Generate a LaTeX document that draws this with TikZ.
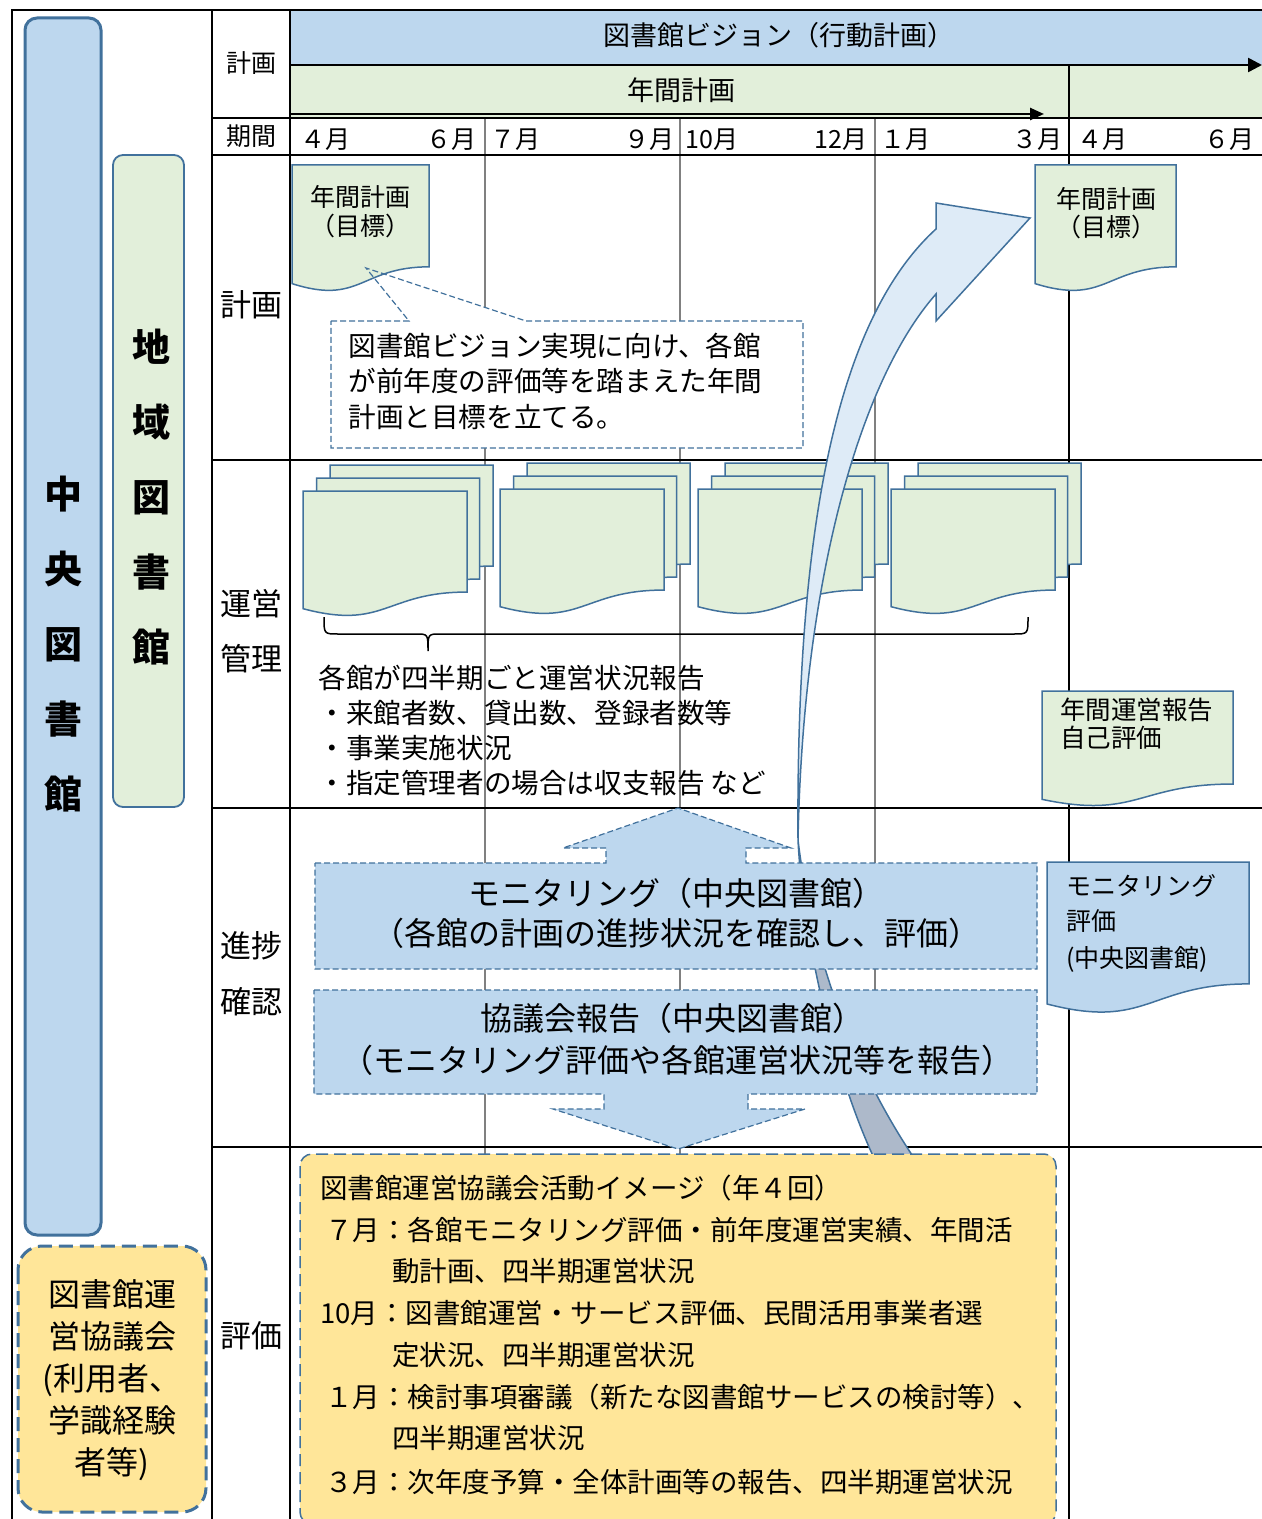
\documentclass[tikz,border=0pt]{standalone}
\usepackage{fontspec}
\setmainfont{Noto Sans CJK JP}
\usetikzlibrary{arrows.meta}
\definecolor{bandblue}{HTML}{BDD7EE}
\definecolor{bandgreen}{HTML}{E2EFDA}
\definecolor{edgeblue}{HTML}{41719C}
\definecolor{paleyellow}{HTML}{FFE699}
\definecolor{arrowlight}{HTML}{DEEBF7}
\definecolor{arrowback}{HTML}{ADB9CA}
\definecolor{gridgray}{HTML}{808080}
\newcommand\jfs[1]{\fontsize{#1pt}{#1pt}\selectfont}
\newcommand\jfsb[2]{\fontsize{#1pt}{#2pt}\selectfont}
% document (wavy bottom) shape: x, y, w, h
\newcommand\docshape[5][]{\path[docstyle,#1] ({#2},{#3}) -- ({#2+#4},{#3}) -- ({#2+#4},{#3+0.802*#5}) .. controls ({#2+0.5*#4},{#3+0.802*#5}) and ({#2+0.5*#4},{#3+1.107*#5}) .. ({#2},{#3+0.934*#5}) -- cycle;}
\newcommand\docstack[2]{\docshape{#1+27}{#2-26}{163}{126}\docshape{#1+13.5}{#2-13}{163}{126}\docshape{#1}{#2}{164}{126}}
\begin{document}
\begin{tikzpicture}[x=0.5pt,y=-0.5pt,
  lbl/.style={inner sep=0pt,text height=1em,text depth=0em},
  gridline/.style={line width=1.25pt,black},
  grayline/.style={line width=1pt,gridgray},
  docstyle/.style={fill=bandgreen,draw=edgeblue,line width=0.75pt},
  dashbox/.style={draw=edgeblue,line width=0.6pt,dash pattern=on 3pt off 1.5pt},
  headtip/.style={-{Triangle[length=7pt,width=7pt]}}
  ]
\useasboundingbox (0,0) rectangle (1262,1519);
% header bands
\fill[bandblue] (290,10) rectangle (1262,65);
\fill[bandgreen] (290,65) rectangle (1262,118);
% gray month separators
\foreach \gx in {485,680,875} \draw[grayline] (\gx,118) -- (\gx,1160);
% frame and table lines
\draw[gridline] (12,1530) -- (12,10) -- (1270,10);
\draw[gridline] (212,10) -- (212,1530);
\draw[gridline] (290,10) -- (290,1530);
\draw[gridline] (1069,65) -- (1069,1530);
\foreach \gy in {118,155,460,808,1147} \draw[gridline] (212,\gy) -- (1270,\gy);
% header arrows
\coordinate (visS) at (290,65); \coordinate (visE) at (1262,65);
\coordinate (yrS) at (290,114); \coordinate (yrE) at (1044,114);
\draw[gridline,headtip] (visS) -- (visE);
\draw[gridline,-{Triangle[length=7pt,width=6pt]}] (yrS) -- (yrE);
\node[lbl,font=\jfs{13.5}] (vision) at (779,36) {図書館ビジョン（行動計画）};
\node[lbl,font=\jfs{13.5}] (nenkan) at (681,91) {年間計画};
% left column labels
\node[lbl,font=\jfs{12.5}] (hKeikaku) at (251,63) {計画};
\node[lbl,font=\jfs{12.5}] (hKikan) at (251,136) {期間};
\node[lbl,font=\jfs{15.5}] (rKeikaku) at (251,307) {計画};
\node[lbl,font=\jfs{15.5}] (rUnei) at (251,605) {運営};
\node[lbl,font=\jfs{15.5}] (rKanri) at (251,660) {管理};
\node[lbl,font=\jfs{15.5}] (rShinchoku) at (251,947) {進捗};
\node[lbl,font=\jfs{15.5}] (rKakunin) at (251,1003) {確認};
\node[lbl,font=\jfs{15.5}] (rHyoka) at (251,1337) {評価};
% months
\begin{scope}[every node/.style={lbl,font=\jfs{12.5}}]
\node[anchor=west] (m4) at (300,139) {４月};
\node[anchor=east] (m6) at (477,139) {６月};
\node[anchor=west] (m7) at (490,139) {７月};
\node[anchor=east] (m9) at (675,139) {９月};
\node[anchor=west] (m10) at (685,139) {10月};
\node[anchor=east] (m12) at (868,139) {12月};
\node[anchor=west] (m1) at (880,139) {１月};
\node[anchor=east] (m3) at (1063,139) {３月};
\node[anchor=west] (n4) at (1077,139) {４月};
\node[anchor=east] (n6) at (1255,139) {６月};
\end{scope}
% left organisation boxes
\draw[fill=bandblue,draw=edgeblue,line width=1.5pt,rounded corners=6pt] (25,18) rectangle (101,1235);
\node[inner sep=0pt,align=center,font=\jfsb{19}{37.5}\bfseries] (chuo) at (63,644) {中\\央\\図\\書\\館};
\draw[fill=bandgreen,draw=edgeblue,line width=0.9pt,rounded corners=5pt] (113,155) rectangle (184,807);
\node[inner sep=0pt,align=center,font=\jfsb{19}{37.5}\bfseries] (chiiki) at (151,497) {地\\域\\図\\書\\館};
\draw[fill=paleyellow,draw=edgeblue,line width=1.5pt,dash pattern=on 7pt off 3.5pt,rounded corners=12pt] (18,1246) rectangle (206,1512);
\node[inner sep=0pt,align=center,font=\jfsb{16}{21}] (kyogikai) at (112,1380) {図書館運\\営協議会\\(利用者、\\学識経験\\者等)};
% callout background
\fill[white] (331,321) -- (409,321) -- (366,268) -- (526,321) -- (803,321) -- (803,448) -- (331,448) -- cycle;
% planning documents
\docshape{292}{165}{137}{127}
\node[lbl,font=\jfs{12.5}] (d1a) at (360,197) {年間計画};
\node[lbl,font=\jfs{12.5}] (d1b) at (360,226) {（目標）};
\docshape{1035}{165}{141}{127}
\node[lbl,font=\jfs{12.5}] (d2a) at (1106,199) {年間計画};
\node[lbl,font=\jfs{12.5}] (d2b) at (1106,227) {（目標）};
% callout outline and text
\draw[dashbox] (331,321) -- (409,321) -- (366,268) -- (526,321) -- (803,321) -- (803,448) -- (331,448) -- cycle;
\begin{scope}[every node/.style={lbl,font=\jfs{13.8},anchor=west}]
\node (c1) at (348,347) {図書館ビジョン実現に向け、各館};
\node (c2) at (348,382) {が前年度の評価等を踏まえた年間};
\node (c3) at (348,417) {計画と目標を立てる。};
\end{scope}
% quarterly report stacks
\docstack{303}{491}
\docstack{500}{489}
\docstack{698}{489}
\docstack{891}{489}
% brace
\draw[line width=0.75pt] (324,617) .. controls (324,634) and (324,634) .. (338,634) -- (416,634) .. controls (428,634) and (428,634) .. (428,651) .. controls (428,634) and (428,634) .. (440,634) -- (1014,634) .. controls (1028,634) and (1028,634) .. (1028,617);
\begin{scope}[every node/.style={lbl,font=\jfs{13.8},anchor=west}]
\node (q1) at (318,678) {各館が四半期ごと運営状況報告};
\node (q2) at (318,713) {・来館者数、貸出数、登録者数等};
\node (q3) at (318,748) {・事業実施状況};
\node (q4) at (318,783) {・指定管理者の場合は収支報告 など};
\end{scope}
% annual report doc
\docshape{1042}{691}{191}{116}
\node[lbl,font=\jfs{12.75},anchor=west] (ar1) at (1060,709) {年間運営報告};
\node[lbl,font=\jfs{12.75},anchor=west] (ar2) at (1060,737) {自己評価};
% curved arrow (back side, then front side)
\filldraw[fill=arrowback,draw=edgeblue,line width=0.75pt] (798,840) .. controls (803,940) and (835,1075) .. (874,1158) -- (914,1158) .. controls (845,1055) and (810,940) .. (798,840) -- cycle;
\filldraw[fill=arrowlight,draw=edgeblue,line width=0.75pt] (798,840) .. controls (796,530) and (836,320) .. (936,229) -- (936,203) -- (1030,218) -- (936,321) -- (936,294) .. controls (860,380) and (803,580) .. (798,840) -- cycle;
% monitoring boxes with arrows
\filldraw[fill=bandblue,dashbox] (315,863) -- (606,863) -- (606,848) -- (563,848) -- (678,808) -- (791,848) -- (746,848) -- (746,863) -- (1037,863) -- (1037,969) -- (315,969) -- cycle;
\node[lbl,font=\jfs{16}] (mon1) at (676,895) {モニタリング（中央図書館）};
\node[lbl,font=\jfs{16}] (mon2) at (676,935) {（各館の計画の進捗状況を確認し、評価）};
\filldraw[fill=bandblue,dashbox] (314,990) -- (1037,990) -- (1037,1094) -- (748,1094) -- (748,1109) -- (805,1109) -- (678,1149) -- (553,1109) -- (604,1109) -- (604,1094) -- (314,1094) -- cycle;
\node[lbl,font=\jfs{16}] (rep1) at (672,1020) {協議会報告（中央図書館）};
\node[lbl,font=\jfs{16}] (rep2) at (677,1062) {（モニタリング評価や各館運営状況等を報告）};
% monitoring evaluation doc
\docshape[fill=bandblue]{1047}{862}{202}{152}
\begin{scope}[every node/.style={lbl,font=\jfs{12.5},anchor=west}]
\node (me1) at (1066,885) {モニタリング};
\node (me2) at (1066,920) {評価};
\node (me3) at (1066,957) {(中央図書館)};
\end{scope}
% council activity box
\filldraw[fill=paleyellow,draw=edgeblue,line width=0.75pt,dash pattern=on 6pt off 3pt,rounded corners=6pt] (300,1154) rectangle (1056,1524);
\begin{scope}[every node/.style={lbl,font=\jfs{13.75},anchor=west}]
\node (e1) at (320,1188) {図書館運営協議会活動イメージ（年４回）};
\node (e2) at (325,1230) {７月：各館モニタリング評価・前年度運営実績、年間活};
\node (e3) at (392,1271) {動計画、四半期運営状況};
\node (e4) at (320,1313) {10月：図書館運営・サービス評価、民間活用事業者選};
\node (e5) at (392,1355) {定状況、四半期運営状況};
\node (e6) at (325,1397) {１月：検討事項審議（新たな図書館サービスの検討等）、};
\node (e7) at (392,1438) {四半期運営状況};
\node (e8) at (325,1482) {３月：次年度予算・全体計画等の報告、四半期運営状況};
\end{scope}
\end{tikzpicture}
\end{document}
